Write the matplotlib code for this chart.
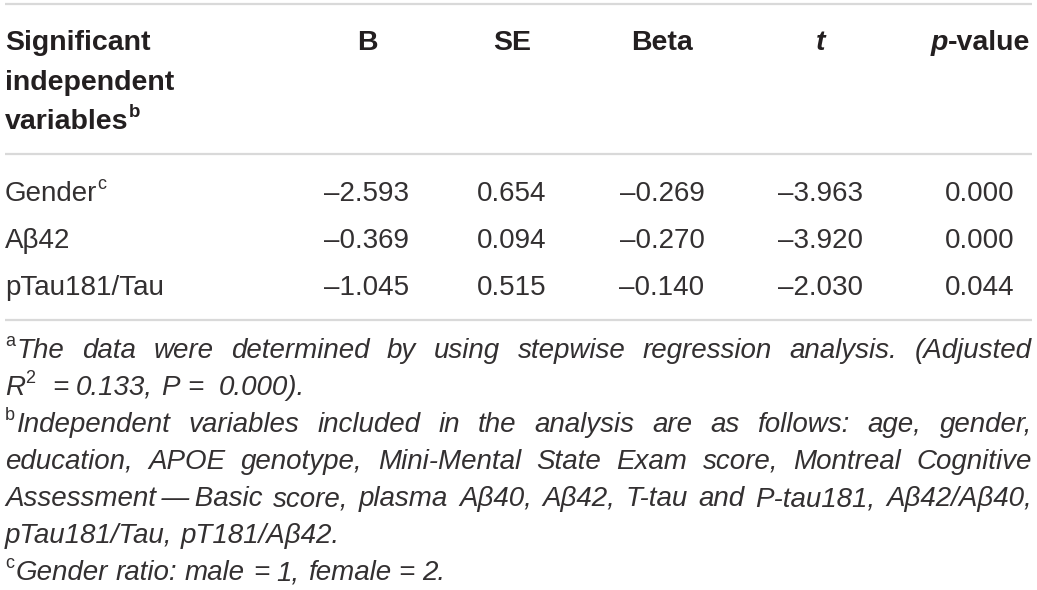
import re
import matplotlib
matplotlib.use('Agg')
from matplotlib import pyplot as plt

# table data
row_names = ['Gender{c}', 'Aβ42', 'pTau181/Tau']
B = [-2.593, -0.369, -1.045]
SE = [0.654, 0.094, 0.515]
Beta = [-0.269, -0.270, -0.140]
t_val = [-3.963, -3.920, -2.030]
p_val = [0.000, 0.000, 0.044]

header_first = ['Significant', 'independent', 'variables{b}']
# (text, italic) pieces per column header
headers = [[('B', False)], [('SE', False)], [('Beta', False)],
           [('t', True)], [('p', True), ('-value', False)]]

# footnote lines, (text, justified)
notes = [
    ('{a}The data were determined by using stepwise regression analysis. (Adjusted', True),
    ('R{2}  = 0.133, P =  0.000).', False),
    ('{b}Independent variables included in the analysis are as follows: age, gender,', True),
    ('education, APOE genotype, Mini-Mental State Exam score, Montreal Cognitive', True),
    ('Assessment\u2009\u2014\u2009Basic score, plasma Aβ40, Aβ42, T-tau and P-tau181, Aβ42/Aβ40,', True),
    ('pTau181/Tau, pT181/Aβ42.', False),
    ('{c}Gender ratio: male = 1, female = 2.', False),
]

font = 'Liberation Sans'
ink = '#231f20'
body_ink = '#333031'
rule = '#d9d9d9'

W, H = 1037, 590
fig = plt.figure(figsize=(W / 100, H / 100), dpi=100)
ax = fig.add_axes([0, 0, 1, 1])
ax.set_xlim(0, W)
ax.set_ylim(H, 0)
ax.axis('off')
renderer = fig.canvas.get_renderer()


def fmt(v):
    return f'{v:.3f}'.replace('-', '\u2013')


def width_of(s, size, **kw):
    t = ax.text(0, 0, s, fontsize=size, family=font, **kw)
    w = t.get_window_extent(renderer).width
    t.remove()
    return w


def runs_of(word):
    # "Gender{c}" -> [('Gender', False), ('c', True)]
    out = []
    pos = 0
    for m in re.finditer(r'\{([^}]*)\}', word):
        if m.start() > pos:
            out.append((word[pos:m.start()], False))
        out.append((m.group(1), True))
        pos = m.end()
    if pos < len(word):
        out.append((word[pos:], False))
    return out


def draw_runs(x, y, word, size, sup_size, color, draw=True, **kw):
    w = 0
    for s, sup in runs_of(word):
        sz = sup_size if sup else size
        skw = dict(kw)
        if sup:
            skw['style'] = 'normal'
        if draw:
            dy = size * 0.6 if sup else 0
            ax.text(x + w, y - dy, s, fontsize=sz, color=color, family=font,
                    va='baseline', ha='left', **skw)
        w += width_of(s, sz, **skw) + (1.5 if sup else 0)
    return w


# rules
for yy in [4, 154, 320]:
    ax.plot([5, 1032], [yy, yy], color=rule, lw=1.6, solid_capstyle='butt')

# header
hsize = 20.5
for i, s in enumerate(header_first):
    draw_runs(5, 50 + i * 39.5, s, hsize, 13.5, ink, fontweight='bold')

col_x = [367, 512, 662, 821, 980]
for cx, parts in zip(col_x, headers):
    widths = [width_of(s, hsize, fontweight='bold',
                       style='italic' if it else 'normal') for s, it in parts]
    x0 = cx - sum(widths) / 2
    for (s, it), w in zip(parts, widths):
        ax.text(x0, 50, s, fontsize=hsize, color=ink, family=font, fontweight='bold',
                style='italic' if it else 'normal', va='baseline', ha='left')
        x0 += w

# body rows
dsize = 20
row_y = [201, 248, 295]
for i, name in enumerate(row_names):
    draw_runs(5, row_y[i], name, dsize, 13, body_ink)
    for cx, col in zip(col_x, [B, SE, Beta, t_val, p_val]):
        ax.text(cx, row_y[i], fmt(col[i]), fontsize=dsize, color=body_ink,
                family=font, ha='center', va='baseline')

# footnotes
nsize = 20
note_y = [358, 395, 432, 469, 506, 543, 580]
left, right = 5, 1032
kw = dict(style='italic')
space = width_of('a a', nsize, **kw) - 2 * width_of('a', nsize, **kw)
for (line, just), yy in zip(notes, note_y):
    words = line.split(' ')
    if just:
        widths = [draw_runs(0, 0, w, nsize, 13, body_ink, draw=False, **kw) for w in words]
        gap = (right - left - sum(widths)) / (len(words) - 1)
        x = left
        for w, ww in zip(words, widths):
            draw_runs(x, yy, w, nsize, 13, body_ink, **kw)
            x += ww + gap
    else:
        x = left
        for w in words:
            if w == '':
                x += space
                continue
            x += draw_runs(x, yy, w, nsize, 13, body_ink, **kw) + space

fig.savefig('out.png', dpi=100)
